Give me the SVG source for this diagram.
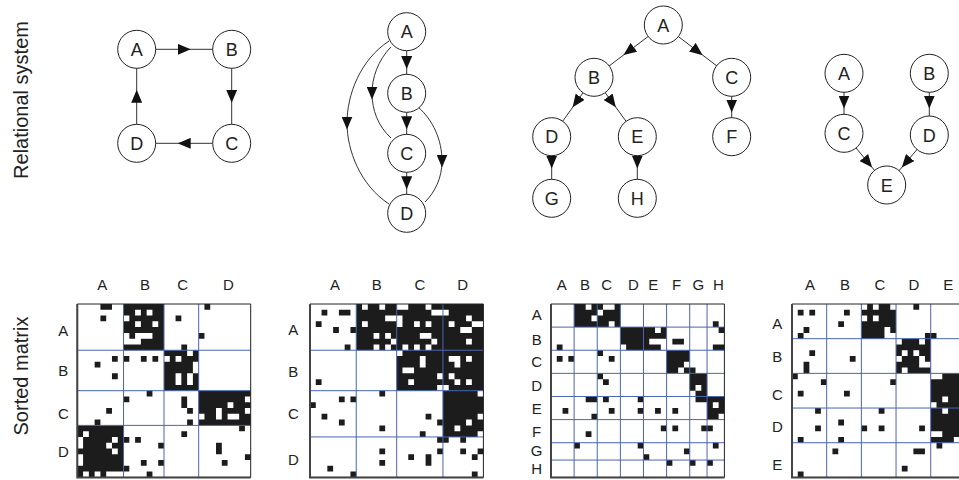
<svg xmlns="http://www.w3.org/2000/svg" width="959" height="480" viewBox="0 0 959 480">
<style>
text{font-family:"Liberation Sans",Arial,Helvetica,sans-serif;fill:#222}
.node circle{fill:#fff;stroke:#222;stroke-width:1}
.node text{font-size:18px;text-anchor:middle}
.edge{fill:none;stroke:#333;stroke-width:1;marker-mid:url(#arr)}
.side{font-size:20px;text-anchor:middle}
.mlab{font-size:15px;text-anchor:middle}
.blk{fill:#1c1c1c}
.hole{fill:#fff}
.grid{fill:none;stroke:#4a66b2;stroke-width:1;vector-effect:non-scaling-stroke}
.frame{fill:none;stroke:#222;stroke-width:1;vector-effect:non-scaling-stroke}
.frame2{fill:none;stroke:#444;stroke-width:2;vector-effect:non-scaling-stroke}
</style>
<defs>
<marker id="arr" markerUnits="userSpaceOnUse" markerWidth="13" markerHeight="11" viewBox="0 0 13 11" refX="6.5" refY="5.5" orient="auto"><path d="M0,0L13,5.5L0,11z" fill="#111"/></marker>
</defs>
<rect width="959" height="480" fill="#fff"/>

<text class="side" transform="translate(28,100) rotate(-90)">Relational system</text>
<text class="side" transform="translate(28,376) rotate(-90)">Sorted matrix</text>

<g id="connectors">
<path class="edge" d="M136.7,49.3L184.2,49.3L231.7,49.3"/>
<path class="edge" d="M231.7,49.3L231.7,96.3L231.7,143.3"/>
<path class="edge" d="M231.7,143.3L184.2,143.3L136.7,143.3"/>
<path class="edge" d="M136.7,143.3L136.7,96.3L136.7,49.3"/>

<path class="edge" d="M406.7,31.7L406.7,62.5L406.7,93.3"/>
<path class="edge" d="M406.7,93.3L406.7,122.8L406.7,153.3"/>
<path class="edge" d="M406.7,153.3L406.7,182.8L406.7,213.3"/>
<path class="edge" d="M389,41C360,60 347,95 347,123C347,150 360,185 389,204"/>
<path class="edge" d="M391,47C378,60 372,78 372,93C372,110 378,126 391,138"/>
<path class="edge" d="M418,107C433,120 442,140 442,161C442,178 435,192 425,202"/>

<path class="edge" d="M663.3,25L628.7,51.2L594,77.3"/>
<path class="edge" d="M663.3,25L697.5,51.2L731.7,77.3"/>
<path class="edge" d="M594,77.3L576.4,102L551.7,136.7"/>
<path class="edge" d="M594,77.3L612,102L637.3,136.7"/>
<path class="edge" d="M731.7,77.3L731.7,106L731.7,136.7"/>
<path class="edge" d="M551.7,136.7L551.7,162L551.7,198.3"/>
<path class="edge" d="M637.3,136.7L637.3,162L637.3,198.3"/>

<path class="edge" d="M844,73.3L844,102L844,133.3"/>
<path class="edge" d="M929.3,73.3L929.3,102L929.3,135"/>
<path class="edge" d="M844,133.3L868,162.5L886.7,185"/>
<path class="edge" d="M929.3,135L906,162.5L886.7,185"/>
</g>

<g id="g1-A" class="node"><circle cx="136.7" cy="49.3" r="19"/><text x="136.7" y="55.8">A</text></g>
<g id="g1-B" class="node"><circle cx="231.7" cy="49.3" r="19"/><text x="231.7" y="55.8">B</text></g>
<g id="g1-C" class="node"><circle cx="231.7" cy="143.3" r="19"/><text x="231.7" y="149.8">C</text></g>
<g id="g1-D" class="node"><circle cx="136.7" cy="143.3" r="19"/><text x="136.7" y="149.8">D</text></g>

<g id="g2-A" class="node"><circle cx="406.7" cy="31.7" r="19"/><text x="406.7" y="38.2">A</text></g>
<g id="g2-B" class="node"><circle cx="406.7" cy="93.3" r="19"/><text x="406.7" y="99.8">B</text></g>
<g id="g2-C" class="node"><circle cx="406.7" cy="153.3" r="19"/><text x="406.7" y="159.8">C</text></g>
<g id="g2-D" class="node"><circle cx="406.7" cy="213.3" r="19"/><text x="406.7" y="219.8">D</text></g>

<g id="g3-A" class="node"><circle cx="663.3" cy="25" r="19"/><text x="663.3" y="31.5">A</text></g>
<g id="g3-B" class="node"><circle cx="594" cy="77.3" r="19"/><text x="594" y="83.8">B</text></g>
<g id="g3-C" class="node"><circle cx="731.7" cy="77.3" r="19"/><text x="731.7" y="83.8">C</text></g>
<g id="g3-D" class="node"><circle cx="551.7" cy="136.7" r="19"/><text x="551.7" y="143.2">D</text></g>
<g id="g3-E" class="node"><circle cx="637.3" cy="136.7" r="19"/><text x="637.3" y="143.2">E</text></g>
<g id="g3-F" class="node"><circle cx="731.7" cy="136.7" r="19"/><text x="731.7" y="143.2">F</text></g>
<g id="g3-G" class="node"><circle cx="551.7" cy="198.3" r="19"/><text x="551.7" y="204.8">G</text></g>
<g id="g3-H" class="node"><circle cx="637.3" cy="198.3" r="19"/><text x="637.3" y="204.8">H</text></g>

<g id="g4-A" class="node"><circle cx="844" cy="73.3" r="19"/><text x="844" y="79.8">A</text></g>
<g id="g4-B" class="node"><circle cx="929.3" cy="73.3" r="19"/><text x="929.3" y="79.8">B</text></g>
<g id="g4-C" class="node"><circle cx="844" cy="133.3" r="19"/><text x="844" y="139.8">C</text></g>
<g id="g4-D" class="node"><circle cx="929.3" cy="135" r="19"/><text x="929.3" y="141.5">D</text></g>
<g id="g4-E" class="node"><circle cx="886.7" cy="185" r="19"/><text x="886.7" y="191.5">E</text></g>

<g id="m1-labels" class="mlab">
<text x="102.3" y="290.4">A</text><text x="145" y="290.4">B</text><text x="182.7" y="290.4">C</text><text x="228.3" y="290.4">D</text>
<text x="63.3" y="335.6">A</text><text x="63.3" y="376.4">B</text><text x="63.3" y="418.7">C</text><text x="63.3" y="456.7">D</text>
</g>
<g id="matrix1" transform="translate(77.3,304) scale(5.78)">
<path class="blk" d="M8 0h7v8h-7zM15 8h6v7h-6zM21 15h9v6h-9zM0 21h8v9h-8zM4 0h2v1h-2zM4 2h1v1h-1zM17 2h1v1h-1zM18 7h1v1h-1zM22 0h1v1h-1zM21 5h1v1h-1zM6 9h1v1h-1zM3 10h1v1h-1zM6 12h1v1h-1zM8 9h1v1h-1zM11 9h1v1h-1zM13 9h1v1h-1zM5 18h1v1h-1zM3 20h1v1h-1zM8 16h1v1h-1zM12 15h1v1h-1zM18 16h1v2h-1zM19 18h1v1h-1zM19 20h1v1h-1zM8 23h1v1h-1zM10 23h1v1h-1zM14 24h1v1h-1zM11 27h1v1h-1zM14 27h1v1h-1zM8 28h1v1h-1zM12 29h1v1h-1zM18 22h1v1h-1zM24 24h1v2h-1zM25 27h1v1h-1zM29 26h1v1h-1zM28 21h1v1h-1z"/>
<path class="hole" d="M10 1h1v1h-1zM12 1h1v1h-1zM8 2h1v1h-1zM10 3h1v1h-1zM13 3h1v1h-1zM8 5h1v1h-1zM10 5h3v1h-3zM8 6h3v1h-3zM15 9h1v1h-1zM17 9h1v1h-1zM19 8h1v1h-1zM20 10h1v2h-1zM17 12h1v2h-1zM19 12h1v2h-1zM29 16h1v1h-1zM26 17h1v1h-1zM29 18h1v1h-1zM24 18h1v2h-1zM26 19h2v1h-2zM21 19h1v1h-1zM1 22h1v1h-1zM0 23h1v2h-1zM5 24h1v1h-1zM6 23h1v1h-1zM6 25h1v1h-1zM0 26h1v2h-1zM1 29h1v1h-1zM3 29h1v1h-1zM5 29h3v1h-3z"/>
<path class="grid" d="M8 0V30M15 0V30M21 0V30M0 8H30M0 15H30M0 21H30"/>
<rect class="frame" x="0" y="0" width="30" height="30"/>
<path class="frame2" d="M0 0V30H30"/>
</g>

<g id="m2-labels" class="mlab">
<text x="335" y="290.4">A</text><text x="376.7" y="290.4">B</text><text x="420" y="290.4">C</text><text x="462.7" y="290.4">D</text>
<text x="293.3" y="335.4">A</text><text x="293.3" y="377.1">B</text><text x="293.3" y="418.7">C</text><text x="293.3" y="465.4">D</text>
</g>
<g id="matrix2" transform="translate(310,304) scale(5.78)">
<path class="blk" d="M8 0h22v8h-22zM15 8h15v7h-15zM23 15h7v8h-7zM2 1h1v1h-1zM5 1h2v1h-2zM1 3h1v1h-1zM4 4h1v1h-1zM7 4h1v1h-1zM6 7h1v1h-1zM1 13h1v1h-1zM5 16h1v1h-1zM7 16h1v1h-1zM0 17h1v1h-1zM2 19h1v1h-1zM5 20h1v1h-1zM12 15h1v1h-1zM12 21h1v1h-1zM20 19h1v1h-1zM22 20h1v1h-1zM19 22h1v1h-1zM3 28h1v1h-1zM7 29h1v1h-1zM12 25h1v1h-1zM12 27h1v1h-1zM22 23h2v1h-2zM17 26h1v1h-1zM20 26h1v2h-1zM22 25h1v1h-1zM26 23h1v1h-1zM26 25h1v1h-1zM29 25h1v1h-1zM28 26h1v1h-1zM28 29h1v1h-1z"/>
<path class="hole" d="M9 0h1v1h-1zM12 0h1v1h-1zM13 2h2v1h-2zM9 3h1v1h-1zM11 5h1v1h-1zM13 5h1v1h-1zM14 6h1v1h-1zM11 7h1v1h-1zM13 7h1v1h-1zM15 0h2v1h-2zM20 0h1v1h-1zM21 1h2v1h-2zM15 2h1v2h-1zM18 3h1v1h-1zM20 3h1v1h-1zM19 5h2v1h-2zM21 6h1v1h-1zM16 7h1v1h-1zM18 7h1v1h-1zM20 7h1v1h-1zM23 1h1v1h-1zM27 2h1v1h-1zM28 3h2v1h-2zM24 3h1v1h-1zM26 4h2v1h-2zM27 6h1v1h-1zM15 8h1v1h-1zM19 9h1v2h-1zM16 11h2v1h-2zM17 13h1v1h-1zM22 12h1v1h-1zM22 14h2v1h-2zM24 9h2v1h-2zM25 10h1v1h-1zM27 9h1v1h-1zM24 12h1v1h-1zM25 13h1v1h-1zM27 13h1v1h-1zM29 15h1v1h-1zM29 19h1v1h-1zM27 20h1v1h-1zM25 21h1v1h-1zM29 22h1v1h-1z"/>
<path class="grid" d="M8 0V30M15 0V30M23 0V30M0 8H30M0 15H30M0 23H30"/>
<rect class="frame" x="0" y="0" width="30" height="30"/>
<path class="frame2" d="M0 0V30H30"/>
</g>

<g id="m3-labels" class="mlab">
<text x="561.7" y="290.4">A</text><text x="585" y="290.4">B</text><text x="606.7" y="290.4">C</text><text x="633.3" y="290.4">D</text><text x="653.3" y="290.4">E</text><text x="676.7" y="290.4">F</text><text x="698.3" y="290.4">G</text><text x="718.3" y="290.4">H</text>
<text x="536.7" y="320.4">A</text><text x="536.7" y="344.7">B</text><text x="536.7" y="367.1">C</text><text x="536.7" y="391.4">D</text><text x="536.7" y="413.7">E</text><text x="536.7" y="437.1">F</text><text x="536.7" y="456.1">G</text><text x="536.7" y="473.7">H</text>
</g>
<g id="matrix3" transform="translate(551,304) scale(5.78)">
<path class="blk" d="M4 0h8v4h-8zM12 4h8v4h-8zM20 8h4v4h-4zM24 12h3v4h-3zM27 16h3v4h-3zM28 3h1v1h-1zM1 7h1v1h-1zM21 6h2v1h-2zM29 4h1v1h-1zM28 7h2v1h-2zM1 9h1v1h-1zM3 9h1v1h-1zM8 8h1v1h-1zM10 9h1v1h-1zM23 11h2v1h-2zM8 12h1v1h-1zM9 13h1v1h-1zM6 16h2v1h-2zM7 19h1v1h-1zM2 18h1v1h-1zM9 16h1v1h-1zM10 18h1v1h-1zM15 16h1v1h-1zM15 18h1v1h-1zM18 18h1v1h-1zM21 18h1v1h-1zM25 16h2v1h-2zM19 21h1v1h-1zM21 21h1v1h-1zM26 21h2v1h-2zM6 22h1v1h-1zM4 24h1v1h-1zM15 24h1v1h-1zM16 26h1v1h-1zM23 25h1v1h-1zM28 24h1v1h-1zM20 27h1v1h-1zM24 27h1v1h-1zM27 27h1v1h-1z"/>
<path class="hole" d="M6 0h1v1h-1zM7 2h1v1h-1zM9 0h2v1h-2zM8 1h1v1h-1zM10 3h1v1h-1zM12 7h1v1h-1zM18 4h1v1h-1zM17 6h3v1h-3zM19 7h1v1h-1zM23 10h1v1h-1zM22 11h1v1h-1zM25 14h1v1h-1zM24 15h1v1h-1zM28 17h1v1h-1zM29 19h1v1h-1z"/>
<path class="grid" d="M4 0V30M8 0V30M12 0V30M16 0V30M20 0V30M24 0V30M27 0V30M0 4H30M0 8H30M0 12H30M0 16H30M0 20H30M0 24H30M0 27H30"/>
<rect class="frame" x="0" y="0" width="30" height="30"/>
<path class="frame2" d="M0 0V30H30"/>
</g>

<g id="m4-labels" class="mlab">
<text x="810" y="290.4">A</text><text x="845" y="290.4">B</text><text x="880" y="290.4">C</text><text x="914" y="290.4">D</text><text x="948.3" y="290.4">E</text>
<text x="777.3" y="328.7">A</text><text x="777.3" y="362.1">B</text><text x="777.3" y="400.4">C</text><text x="777.3" y="432.1">D</text><text x="777.3" y="470.4">E</text>
</g>
<g id="matrix4" transform="translate(792,304) scale(5.78)">
<path class="blk" d="M12 0h6v6h-6zM18 6h6v6h-6zM24 12h6v12h-6zM1 1h1v1h-1zM3 1h1v1h-1zM2 4h1v1h-1zM1 5h1v1h-1zM9 1h1v1h-1zM8 3h1v1h-1zM21 0h1v1h-1zM23 5h2v1h-2zM3 8h1v1h-1zM2 10h1v2h-1zM10 9h1v1h-1zM0 12h1v1h-1zM5 13h1v1h-1zM1 15h1v1h-1zM9 15h1v1h-1zM17 13h1v1h-1zM4 18h1v1h-1zM4 21h1v1h-1zM1 23h1v1h-1zM8 20h1v1h-1zM8 23h1v1h-1zM12 21h1v1h-1zM15 18h1v1h-1zM15 21h1v1h-1zM22 21h1v1h-1zM1 29h1v1h-1zM7 25h1v1h-1zM21 25h2v1h-2zM19 28h1v1h-1zM25 24h1v1h-1z"/>
<path class="hole" d="M12 0h1v1h-1zM14 0h1v1h-1zM17 0h1v1h-1zM12 2h1v1h-1zM14 2h1v1h-1zM16 4h1v1h-1zM16 5h2v1h-2zM18 6h1v1h-1zM22 6h1v1h-1zM19 8h1v1h-1zM21 8h1v1h-1zM18 9h1v1h-1zM22 9h1v2h-1zM23 10h1v1h-1zM19 11h1v1h-1zM24 12h2v1h-2zM26 16h1v1h-1zM24 17h1v1h-1zM26 18h1v1h-1zM24 22h2v1h-2zM28 23h2v1h-2z"/>
<path class="grid" d="M6 0V30M12 0V30M18 0V30M24 0V30M0 6H30M0 12H30M0 18H30M0 24H30"/>
<rect class="frame" x="0" y="0" width="30" height="30"/>
<path class="frame2" d="M0 0V30H30"/>
</g>
</svg>
